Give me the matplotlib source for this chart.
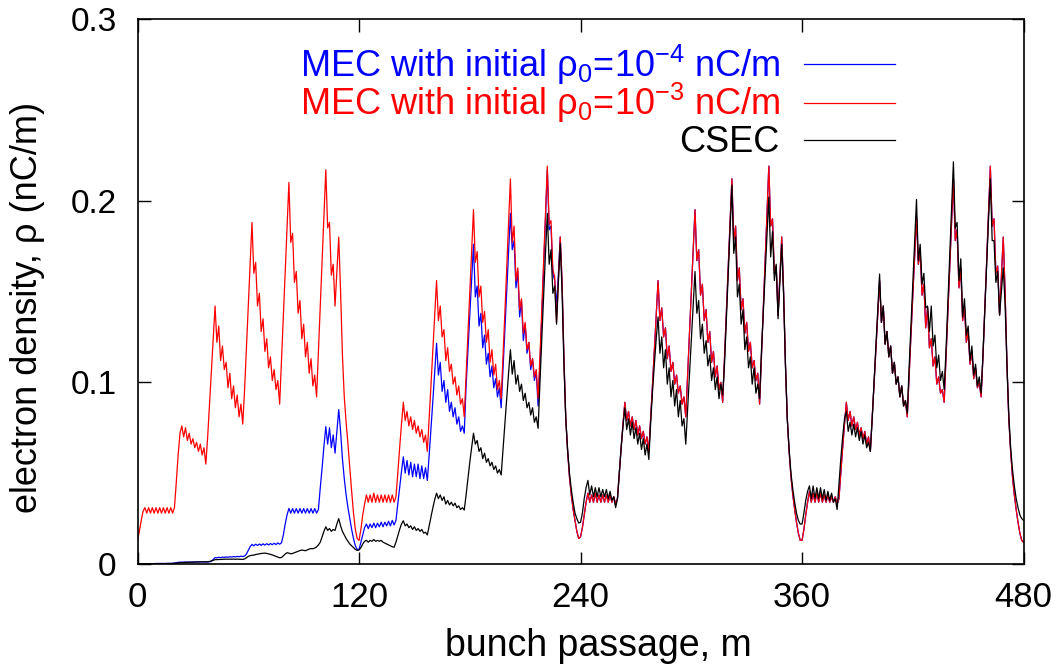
import numpy as np
import matplotlib
matplotlib.use("Agg")
import matplotlib.pyplot as plt

# electron density, in units of 1e-3 nC/m,
# one value per bunch passage m (period 1: m=0..119, period 2: 120..239, ...)
red_p1 = [13, 18, 24, 29, 31, 28, 31, 28, 31, 28,
          31, 28, 31, 28, 31, 28, 31, 28, 31, 28,
          31, 45, 60, 72, 76, 70, 75, 68, 72, 66,
          69, 64, 67, 62, 66, 60, 64, 55, 70, 88,
          106, 124, 142, 122, 131, 112, 120, 107, 111, 97,
          105, 91, 98, 86, 93, 81, 88, 77, 96, 119,
          142, 165, 188, 160, 166, 142, 149, 128, 135, 117,
          124, 108, 114, 101, 107, 96, 101, 88, 112, 137,
          161, 185, 210, 177, 182, 155, 161, 138, 145, 124,
          132, 114, 122, 105, 113, 98, 104, 92, 117, 142,
          167, 192, 217, 185, 188, 159, 165, 142, 161, 180,
          150, 115, 92, 78, 66, 53, 40, 28, 19, 14]
red_p2 = [13, 19, 27, 33, 38, 34, 38, 34, 39, 34,
          38, 34, 38, 34, 38, 34, 38, 34, 38, 34,
          37, 50, 64, 77, 89, 79, 84, 76, 81, 74,
          79, 72, 76, 70, 74, 67, 71, 62, 80, 99,
          118, 137, 156, 134, 142, 125, 129, 112, 119, 106,
          110, 99, 103, 93, 98, 88, 91, 81, 104, 127,
          150, 173, 195, 166, 172, 147, 153, 133, 139, 122,
          129, 111, 118, 104, 110, 96, 101, 91, 114, 138,
          163, 188, 212, 177, 186, 156, 163, 140, 146, 127,
          133, 118, 122, 109, 113, 103, 107, 91, 114, 140,
          166, 192, 219, 187, 189, 162, 158, 133, 157, 180,
          155, 113, 80, 62, 48, 38, 30, 24, 18, 14]
red_p3 = [15, 20, 27, 34, 39, 34, 38, 34, 39, 34,
          38, 34, 38, 34, 38, 34, 38, 34, 37, 33,
          36, 50, 64, 77, 89, 79, 84, 76, 81, 74,
          79, 71, 76, 69, 73, 66, 70, 62, 80, 99,
          118, 137, 156, 134, 141, 125, 130, 113, 120, 106,
          111, 99, 104, 94, 98, 88, 92, 81, 104, 127,
          150, 173, 195, 167, 173, 148, 154, 134, 140, 122,
          128, 111, 117, 103, 109, 96, 100, 89, 114, 138,
          163, 188, 212, 178, 186, 156, 163, 140, 146, 127,
          133, 117, 122, 108, 112, 101, 105, 88, 114, 140,
          166, 192, 219, 186, 190, 160, 164, 137, 158, 180,
          150, 110, 80, 62, 48, 38, 30, 23, 17, 13]
red_p4 = [13, 19, 27, 34, 40, 34, 39, 34, 39, 34,
          39, 34, 38, 34, 38, 34, 37, 34, 37, 33,
          36, 50, 64, 77, 89, 79, 84, 76, 81, 74,
          78, 71, 75, 69, 73, 66, 70, 62, 80, 99,
          118, 137, 156, 133, 142, 121, 128, 114, 120, 105,
          111, 99, 103, 92, 98, 87, 90, 81, 104, 126,
          148, 170, 191, 165, 172, 148, 154, 130, 141, 119,
          124, 109, 114, 99, 103, 94, 96, 89, 114, 138,
          163, 188, 212, 178, 184, 152, 163, 134, 141, 122,
          128, 110, 117, 102, 108, 97, 100, 92, 114, 140,
          166, 192, 219, 186, 190, 160, 164, 137, 158, 180,
          150, 110, 80, 62, 48, 38, 30, 23, 17, 13, 12]

blue_p1 = [0.1, 0.1, 0.1, 0.1, 0.2, 0.2, 0.2, 0.2, 0.2, 0.2,
           0.3, 0.3, 0.3, 0.3, 0.3, 0.3, 0.3, 0.3, 0.3, 0.4,
           0.5, 0.7, 0.9, 1.0, 1.0, 1.0, 1.1, 1.0, 1.1, 1.0,
           1.1, 1.1, 1.2, 1.1, 1.2, 1.1, 1.2, 1.1, 1.1, 1.2,
           1.5, 2.5, 3.5, 3.4, 3.7, 3.5, 3.8, 3.6, 3.9, 3.7,
           4.0, 3.8, 4.1, 3.9, 4.2, 4.0, 4.3, 4.1, 4.4, 5.5,
           7.5, 9.5, 10.8, 10.0, 10.9, 10.2, 11.0, 10.3, 11.1, 10.4,
           11.2, 10.5, 11.3, 10.6, 11.4, 10.7, 11.6, 10.9, 11.7, 16,
           22, 27, 30.6, 28, 30.5, 28, 30.5, 28, 30.5, 28,
           30.5, 28, 30.5, 28, 30.5, 28, 30.5, 28, 30, 42,
           53, 65, 75.6, 66, 75, 64, 71, 61, 73, 85,
           73, 58, 47, 38, 31, 25, 19, 14, 10, 8]
blue_p2 = [8, 12, 16, 20, 22, 19.5, 22, 20, 22.5, 20,
           22.5, 20.5, 23, 20.5, 23, 21, 23.5, 21, 24, 21.5,
           24, 33, 42, 51, 59, 50, 57, 49, 56, 48,
           55, 48, 55, 47, 54, 47, 53, 46, 60, 75,
           90, 106, 121.5, 104, 111, 95, 101, 89, 96, 84,
           89, 81, 86, 77, 81, 73, 76, 72, 98, 118,
           137, 156, 176, 147, 153, 131, 138, 119, 126, 110,
           116, 103, 109, 97, 102, 92, 97, 86, 107, 128,
           150, 172, 193, 173, 178, 152, 161, 136, 145, 123,
           132, 116, 122, 107, 113, 101, 106, 87, 109, 136,
           163, 190, 217, 184, 186, 160, 156, 142, 160, 180,
           155, 113, 80, 62, 48, 38, 30, 24, 18, 14]
# from m=240 on the blue curve lies under the red one

black_p1 = [0, 0, 0, 0.1, 0.1, 0.1, 0.1, 0.1, 0.1, 0.1,
            0.2, 0.2, 0.2, 0.2, 0.2, 0.2, 0.3, 0.3, 0.3, 0.3,
            0.4, 0.5, 0.6, 0.7, 0.8, 0.8, 0.9, 0.9, 1.0, 1.0,
            1.0, 1.1, 1.1, 1.1, 1.2, 1.2, 1.2, 1.2, 1.3, 1.4,
            1.7, 2.0, 2.4, 2.4, 2.5, 2.5, 2.6, 2.6, 2.7, 2.6,
            2.7, 2.6, 2.7, 2.6, 2.7, 2.6, 2.6, 2.5, 2.8, 3.5,
            4.2, 4.6, 4.8, 4.9, 5.2, 5.4, 5.6, 5.8, 5.9, 6.0,
            5.8, 5.6, 5.3, 5.0, 4.6, 4.2, 3.8, 3.4, 3.6, 4.5,
            5.5, 6.2, 6.0, 5.6, 5.8, 6.2, 6.6, 7.0, 7.4, 7.7,
            7.5, 7.3, 7.8, 8.2, 8.5, 8.4, 8.8, 9.4, 10.5, 12,
            15, 18, 20.5, 18.5, 19.5, 18, 19, 18.5, 22, 25,
            21, 18, 16, 14, 12.5, 11, 10, 9, 8, 7.5]
black_p2 = [7.7, 9, 11, 12.5, 13, 12, 13, 12.5, 13.5, 12.5,
            13, 12.5, 13, 12, 11.5, 11, 10.5, 10, 9.5, 9.2,
            12, 15.5, 19, 22, 23.8, 21, 22, 20, 21, 19,
            20.5, 18.5, 19.5, 18, 19, 17, 17.5, 16, 21, 26,
            31, 35.5, 39, 36, 38, 35, 37, 33, 35, 32.5,
            34, 32, 33.5, 31, 32, 30, 31, 29.7, 38, 47,
            56, 64, 72, 66, 68, 62, 64, 58, 61, 56,
            58, 54, 56, 52, 54, 50, 52, 49, 63, 77,
            91, 105, 118, 104.5, 112, 99, 104, 95, 99, 90,
            94, 86, 89, 82, 86, 78, 81, 74.7, 100, 124,
            148, 171, 193, 165, 173, 149, 153, 132, 155, 176.5,
            150, 110, 80, 63, 50, 41, 34, 28, 25, 22.5]
black_p3 = [23, 28, 36, 42, 46, 38, 43, 37, 42, 37,
            42, 37, 41, 37, 41, 36, 40, 35, 37, 31,
            36, 50, 64, 76, 86, 74, 80, 71, 78, 69,
            75, 66, 72, 63, 69, 60, 66, 57.5, 78, 95,
            110, 124, 136, 116, 125, 108, 118, 99, 108, 92,
            101, 87, 96, 81, 90, 76, 80, 66, 85, 104,
            123, 142, 161, 138, 145, 124, 132, 116, 123, 109,
            115, 101, 108, 96, 103, 91, 99, 93, 110, 135,
            160, 185, 208.6, 171, 180, 147, 154, 132, 140, 118,
            125, 108, 114, 99, 108, 94, 99, 91, 117, 138,
            160, 181, 202, 169, 183, 156, 165, 135, 156, 176,
            148, 110, 80, 63, 50, 41, 34, 28, 24, 22]
black_p4 = [22, 28, 35, 40, 43, 36, 43, 36, 42, 36,
            42, 36, 41, 35, 40, 35, 39, 34, 36, 30,
            44, 58, 70, 80, 84, 73, 78, 71, 77, 70,
            75, 68, 73, 66, 71, 64, 67, 62, 80, 100,
            120, 140, 159.6, 133, 142, 121, 128, 114, 120, 105,
            111, 99, 103, 92, 98, 87, 90, 83, 108, 131,
            154, 178, 200.7, 167, 176, 154, 160, 141, 142, 128,
            142, 120, 126, 108, 115, 101, 106, 96, 118, 144,
            170, 196, 221.4, 185, 188, 156, 168, 136, 146, 126,
            131, 112, 120, 104, 110, 98, 103, 94, 115, 140,
            164, 189, 212, 178, 178, 155, 161, 137, 150, 163,
            143, 110, 82, 64, 52, 43, 36, 31, 27, 25, 24]

labels = ["MEC with initial ρ$_0$=10$^{-4}$ nC/m",
          "MEC with initial ρ$_0$=10$^{-3}$ nC/m",
          "CSEC"]
colors = ["#0000ff", "#ff0000", "#000000"]
x_ticks = [0, 120, 240, 360, 480]
y_ticks = [0, 0.1, 0.2, 0.3]
y_tick_labels = ["0", "0.1", "0.2", "0.3"]

plt.rcParams["font.family"] = ["Liberation Sans", "DejaVu Sans"]
plt.rcParams["mathtext.fontset"] = "custom"
plt.rcParams["mathtext.rm"] = "Liberation Sans"
plt.rcParams["mathtext.default"] = "regular"

red = np.array(red_p1 + red_p2 + red_p3 + red_p4) * 1e-3
blue = np.concatenate([np.array(blue_p1 + blue_p2) * 1e-3, red[240:]])
black = np.array(black_p1 + black_p2 + black_p3 + black_p4) * 1e-3

fig = plt.figure(figsize=(10.62, 6.64), dpi=100)
ax = fig.add_axes([0.1295, 0.1506, 0.8343, 0.8208])

for y, c in zip([blue, red, black], colors):
    ax.plot(np.arange(len(y)), y, color=c, lw=0.9)

ax.set_xlim(0, 480)
ax.set_ylim(0, 0.3)
ax.set_xticks(x_ticks)
ax.set_yticks(y_ticks)
ax.set_yticklabels(y_tick_labels)
ax.tick_params(direction="in", length=9, width=1, top=True, right=True)
ax.tick_params(axis="y", pad=15, labelsize=24)
ax.tick_params(axis="x", pad=12, labelsize=25)
for s in ax.spines.values():
    s.set_linewidth(1.2)

ax.set_xlabel("bunch passage, m", fontsize=27)
ax.xaxis.set_label_coords(0.52, -0.117)
ax.set_ylabel("electron density, ρ (nC/m)", fontsize=26)
ax.yaxis.set_label_coords(-0.104, 0.47)

# gnuplot-style key: right-aligned text, sample line on the right
text_y = [0.8927, 0.8239, 0.7565]
line_y = [0.9167, 0.8453, 0.7776]
for lab, c, ty, ly in zip(labels, colors, text_y, line_y):
    ax.text(0.725, ty, lab, color=c, fontsize=26, ha="right", va="baseline",
            transform=ax.transAxes)
    ax.plot([0.752, 0.855], [ly, ly], color=c, lw=0.9, transform=ax.transAxes)

fig.savefig("out.png", dpi=100)
